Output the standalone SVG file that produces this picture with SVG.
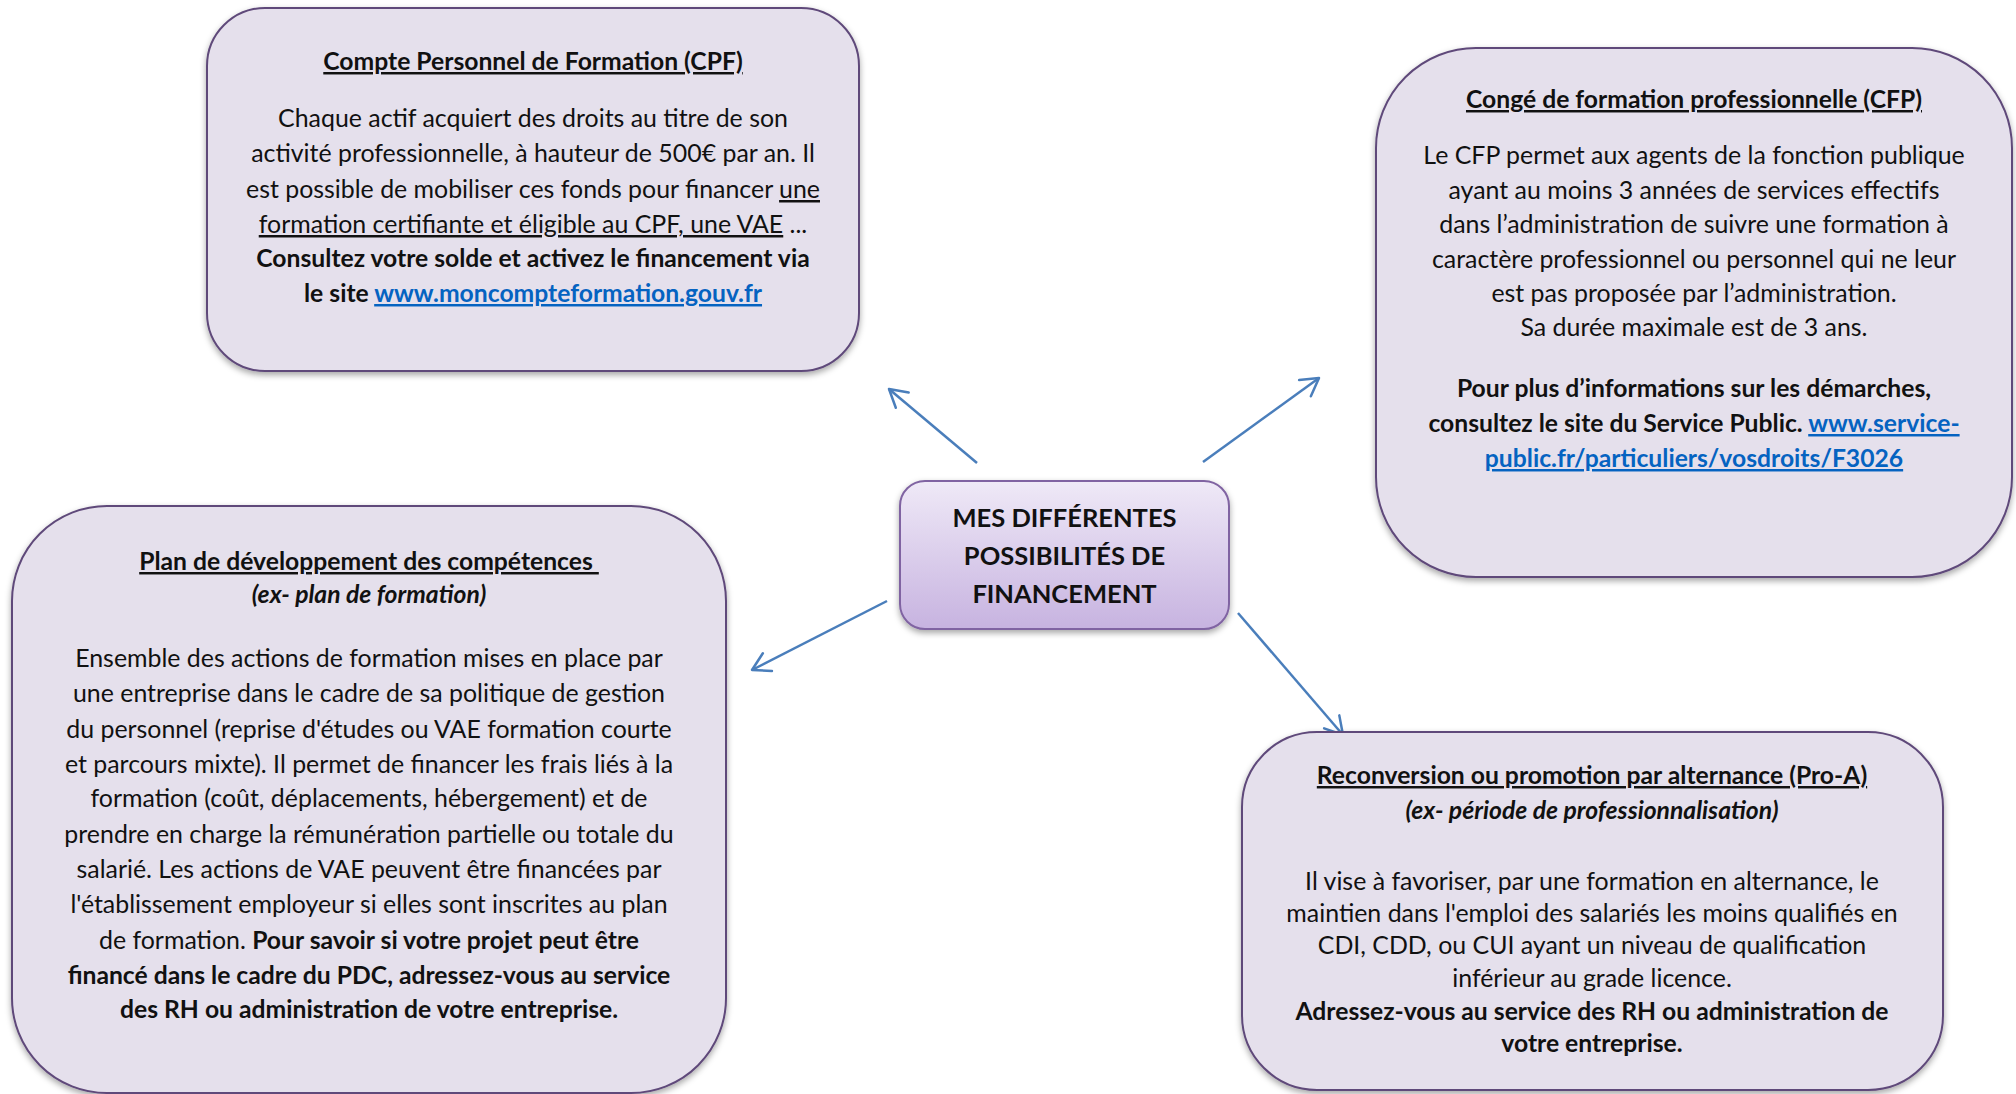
<svg xmlns="http://www.w3.org/2000/svg" width="2016" height="1094" viewBox="0 0 2016 1094">
<style>
text{font-family:Lato,"Liberation Sans",sans-serif;fill:#111;text-anchor:middle}
.t{font-size:24.9px}
.b{font-weight:bold;font-size:24.7px}
.i{font-style:italic}
.u{text-decoration:underline}
.lk{fill:#0563C1;text-decoration:underline}
.box{fill:#E5E0EC;stroke:#5F497A;stroke-width:2}
.c{font-size:25.5px;font-weight:bold}
.arr{stroke:#4A7EBB;stroke-width:2.5;fill:none;marker-end:url(#ah)}
</style>
<defs>
<filter id="sh" x="-10%" y="-10%" width="120%" height="125%">
<feDropShadow dx="0" dy="3" stdDeviation="3" flood-color="#000" flood-opacity="0.35"/>
</filter>
<linearGradient id="cg" x1="0" y1="0" x2="0" y2="1">
<stop offset="0" stop-color="#EFE9F7"/>
<stop offset="1" stop-color="#C7B3E0"/>
</linearGradient>
<marker id="ah" markerUnits="userSpaceOnUse" viewBox="-20 -12 22 24" markerWidth="22" markerHeight="24" refX="0" refY="0" orient="auto">
<path d="M-17.3,-10 L0,0 L-17.3,10" fill="none" stroke="#4A7EBB" stroke-width="2.5" stroke-linecap="round" stroke-linejoin="round"/>
</marker>
</defs>
<rect width="2016" height="1094" fill="#fff"/>

<g id="connectors">
<line class="arr" x1="977" y1="463" x2="889" y2="389"/>
<line class="arr" x1="1203" y1="462" x2="1319" y2="378"/>
<line class="arr" x1="887" y1="601" x2="752" y2="670"/>
<line class="arr" x1="1238" y1="613" x2="1343" y2="735"/>
</g>

<g id="center">
<rect x="900" y="481" width="329" height="148" rx="25" fill="url(#cg)" stroke="#8064A2" stroke-width="2" filter="url(#sh)"/>
<text class="c" x="1064.5" y="527">MES DIFFÉRENTES</text>
<text class="c" x="1064.5" y="565">POSSIBILITÉS DE</text>
<text class="c" x="1064.5" y="603">FINANCEMENT</text>
</g>

<g id="cpf">
<rect class="box" x="207" y="8" width="652" height="363" rx="58" filter="url(#sh)"/>
<text class="t b u" x="533" y="70">Compte Personnel de Formation (CPF)</text>
<text class="t" x="533" y="127">Chaque actif acquiert des droits au titre de son</text>
<text class="t" x="533" y="162">activité professionnelle, à hauteur de 500€ par an. Il</text>
<text class="t" x="533" y="198">est possible de mobiliser ces fonds pour financer <tspan class="u">une</tspan></text>
<text class="t" x="533" y="233"><tspan class="u">formation certifiante et éligible au CPF, une VAE</tspan> ...</text>
<text class="t b" x="533" y="267">Consultez votre solde et activez le financement via</text>
<text class="t b" x="533" y="302">le site <tspan class="lk">www.moncompteformation.gouv.fr</tspan></text>
</g>

<g id="cfp">
<rect class="box" x="1376" y="48" width="636" height="529" rx="100" filter="url(#sh)"/>
<text class="t b u" x="1694" y="108">Congé de formation professionnelle (CFP)</text>
<text class="t" x="1694" y="164">Le CFP permet aux agents de la fonction publique</text>
<text class="t" x="1694" y="199">ayant au moins 3 années de services effectifs</text>
<text class="t" x="1694" y="233">dans l’administration de suivre une formation à</text>
<text class="t" x="1694" y="268">caractère professionnel ou personnel qui ne leur</text>
<text class="t" x="1694" y="302">est pas proposée par l’administration.</text>
<text class="t" x="1694" y="336">Sa durée maximale est de 3 ans.</text>
<text class="t b" x="1694" y="397">Pour plus d’informations sur les démarches,</text>
<text class="t b" x="1694" y="432">consultez le site du Service Public. <tspan class="lk">www.service-</tspan></text>
<text class="t b lk" x="1694" y="467">public.fr/particuliers/vosdroits/F3026</text>
</g>

<g id="plan">
<rect class="box" x="12" y="506" width="714" height="587" rx="95" filter="url(#sh)"/>
<text class="t b u" x="369" y="570" xml:space="preserve">Plan de développement des compétences </text>
<text class="t b i" x="369" y="603">(ex- plan de formation)</text>
<text class="t" x="369" y="667">Ensemble des actions de formation mises en place par</text>
<text class="t" x="369" y="702">une entreprise dans le cadre de sa politique de gestion</text>
<text class="t" x="369" y="738">du personnel (reprise d'études ou VAE formation courte</text>
<text class="t" x="369" y="773">et parcours mixte). Il permet de financer les frais liés à la</text>
<text class="t" x="369" y="807">formation (coût, déplacements, hébergement) et de</text>
<text class="t" x="369" y="843">prendre en charge la rémunération partielle ou totale du</text>
<text class="t" x="369" y="878">salarié. Les actions de VAE peuvent être financées par</text>
<text class="t" x="369" y="913">l'établissement employeur si elles sont inscrites au plan</text>
<text class="t" x="369" y="949">de formation. <tspan class="b">Pour savoir si votre projet peut être</tspan></text>
<text class="t b" x="369" y="984">financé dans le cadre du PDC, adressez-vous au service</text>
<text class="t b" x="369" y="1018">des RH ou administration de votre entreprise.</text>
</g>

<g id="proa">
<rect class="box" x="1242" y="732" width="701" height="358" rx="75" filter="url(#sh)"/>
<text class="t b u" x="1592" y="784">Reconversion ou promotion par alternance (Pro-A)</text>
<text class="t b i" x="1592" y="819">(ex- période de professionnalisation)</text>
<text class="t" x="1592" y="890">Il vise à favoriser, par une formation en alternance, le</text>
<text class="t" x="1592" y="922">maintien dans l'emploi des salariés les moins qualifiés en</text>
<text class="t" x="1592" y="954">CDI, CDD, ou CUI ayant un niveau de qualification</text>
<text class="t" x="1592" y="987">inférieur au grade licence.</text>
<text class="t b" x="1592" y="1020">Adressez-vous au service des RH ou administration de</text>
<text class="t b" x="1592" y="1052">votre entreprise.</text>
</g>
</svg>
